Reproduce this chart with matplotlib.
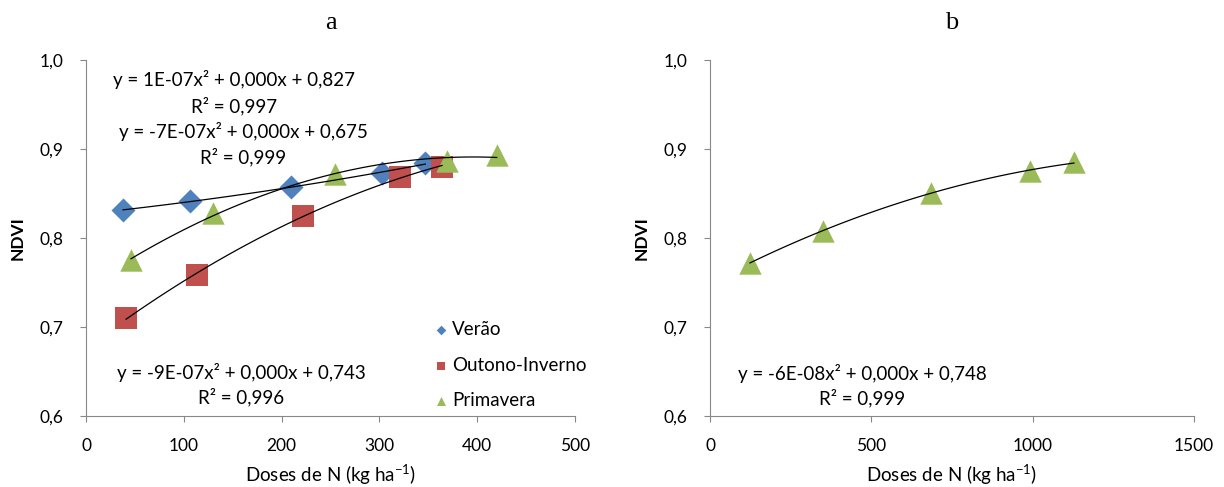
""" NDVI versus N doses, panels a and b. """

import matplotlib
matplotlib.use("Agg")
import matplotlib.pyplot as plt
import numpy as np

# panel a
verao_x = [38, 106, 210, 303, 347]
verao_y = [0.831, 0.842, 0.857, 0.873, 0.884]
outono_x = [41, 113, 222, 321, 364]
outono_y = [0.710, 0.758, 0.825, 0.869, 0.880]
primavera_x = [46, 130, 255, 369, 420]
primavera_y = [0.775, 0.828, 0.872, 0.887, 0.893]
# panel b
prim_b_x = [124, 349, 684, 991, 1128]
prim_b_y = [0.772, 0.808, 0.851, 0.875, 0.885]

eq_verao = ["y = 1E-07x² + 0,000x + 0,827", "R² = 0,997"]
eq_prim = ["y = -7E-07x² + 0,000x + 0,675", "R² = 0,999"]
eq_outono = ["y = -9E-07x² + 0,000x + 0,743", "R² = 0,996"]
eq_b = ["y = -6E-08x² + 0,000x + 0,748", "R² = 0,999"]

blue = '#4F81BD'
red = '#C0504D'
green = '#9BBB59'

plt.rcParams['font.family'] = ['Lato', 'DejaVu Sans']
plt.rcParams['mathtext.fontset'] = 'custom'
plt.rcParams['mathtext.rm'] = 'Lato'


def trend(ax, x, y):
    """ draw a 2nd order trend line over the range of x """
    c = np.polyfit(x, y, 2)
    xs = np.linspace(min(x), max(x), 100)
    ax.plot(xs, np.polyval(c, xs), color='k', lw=0.9, zorder=3)


def equation(ax, lines, xc, y1, y2):
    ax.text(xc, y1, lines[0], transform=ax.transAxes, ha='center',
            va='center', fontsize=13.5)
    ax.text(xc, y2, lines[1], transform=ax.transAxes, ha='center',
            va='center', fontsize=13.5)


def style(ax, xmax, xstep):
    ax.set_ylim(0.6, 1.0)
    ax.set_xlim(0, xmax)
    ax.set_yticks(np.arange(0.6, 1.01, 0.1))
    ax.set_yticklabels(["0,6", "0,7", "0,8", "0,9", "1,0"])
    ax.set_xticks(np.arange(0, xmax + 1, xstep))
    for s in ('top', 'right'):
        ax.spines[s].set_visible(False)
    for s in ('left', 'bottom'):
        ax.spines[s].set_color('#888888')
    ax.tick_params(direction='out', length=4, color='#888888',
                   labelsize=12.5, pad=12)
    ax.tick_params(axis='y', pad=12)
    ax.set_ylabel("NDVI", fontsize=12.5, fontweight='bold', labelpad=10)
    ax.set_xlabel("Doses de N (kg ha$^{-1}$)", fontsize=13.5, labelpad=6)


fig = plt.figure(figsize=(12.24, 4.87), dpi=100)
ga = fig.add_axes([86/1224, 1-416/487, 489/1224, 356/487])
gb = fig.add_axes([710/1224, 1-416/487, 484/1224, 356/487])

ga.scatter(verao_x, verao_y, marker='D', s=150, color=blue,
           label="Verão", zorder=2, linewidths=0)
ga.scatter(outono_x, outono_y, marker='s', s=230, color=red,
           label="Outono-Inverno", zorder=2, linewidths=0)
ga.scatter(primavera_x, primavera_y, marker='^', s=260, color=green,
           label="Primavera", zorder=2, linewidths=0)
trend(ga, verao_x, verao_y)
trend(ga, outono_x, outono_y)
trend(ga, primavera_x, primavera_y)
style(ga, 500, 100)
equation(ga, eq_verao, 0.303, 0.944, 0.871)
equation(ga, eq_prim, 0.321, 0.798, 0.728)
equation(ga, eq_outono, 0.317, 0.121, 0.053)
leg = ga.legend(loc='lower right', bbox_to_anchor=(1.05, -0.018), frameon=False,
                fontsize=13.5, markerscale=0.4, handletextpad=0.1,
                labelspacing=1.0, handlelength=1.0, borderaxespad=0.3)
ga.set_title("a", fontsize=19, family='Liberation Serif', pad=22)

gb.scatter(prim_b_x, prim_b_y, marker='^', s=260, color=green,
           zorder=2, linewidths=0)
trend(gb, prim_b_x, prim_b_y)
style(gb, 1500, 500)
equation(gb, eq_b, 0.314, 0.118, 0.051)
gb.set_title("b", fontsize=19, family='Liberation Serif', pad=22)

fig.savefig("out.png", dpi=100)
